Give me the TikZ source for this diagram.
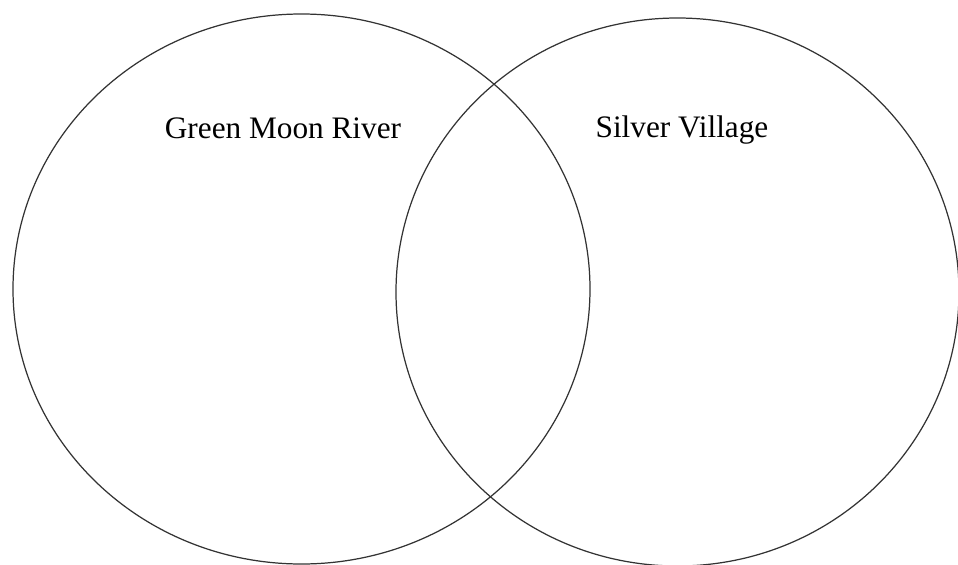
\documentclass[tikz,border=0pt]{standalone}
\usepackage{fontspec}
\setmainfont{Liberation Serif}
\begin{document}
\begin{tikzpicture}[x=0.02cm,y=-0.02cm]
  \useasboundingbox (0,0) rectangle (958,565);
  \draw[line width=0.7pt,black!80] (301.5,289) ellipse [x radius=288.5*0.02cm, y radius=275*0.02cm];
  \draw[line width=0.7pt,black!80] (677.5,292) ellipse [x radius=281.5*0.02cm, y radius=274*0.02cm];
  \node[font=\fontsize{17.8}{20}\selectfont] (green) at (283,128) {Green Moon River};
  \node[font=\fontsize{17.8}{20}\selectfont] (silver) at (682,130) {Silver Village};
\end{tikzpicture}
\end{document}
